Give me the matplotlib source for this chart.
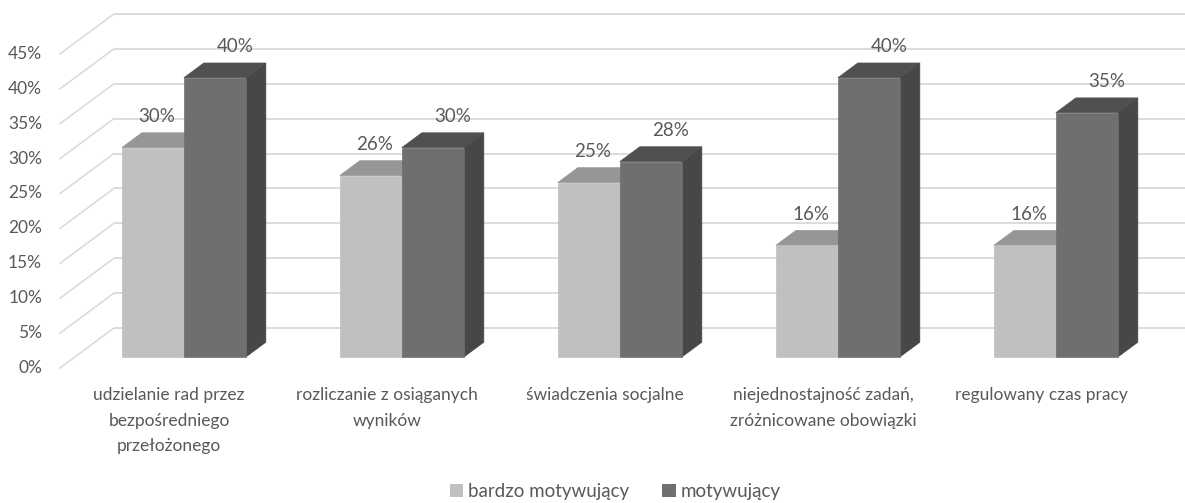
import matplotlib
matplotlib.use("Agg")
import matplotlib.pyplot as plt
from matplotlib.patches import Polygon, Rectangle

plt.rcParams['font.family'] = ['Lato', 'DejaVu Sans']

categories = [
    "udzielanie rad przez\nbezpośredniego\nprzełożonego",
    "rozliczanie z osiąganych\nwyników",
    "świadczenia socjalne",
    "niejednostajność zadań,\nzróżnicowane obowiązki",
    "regulowany czas pracy",
]
series_names = ["bardzo motywujący", "motywujący"]
bardzo_motywujacy = [30, 26, 25, 16, 16]
motywujacy = [40, 30, 28, 40, 35]
y_ticks = [0, 5, 10, 15, 20, 25, 30, 35, 40, 45]

TEXT = "#595959"
GRID = "#d9d9d9"
# front / top / side shades for each series
SHADES = [
    ("#c0c0c0", "#969696", "#8a8a8a"),
    ("#6f6f6f", "#505050", "#474747"),
]

W, H = 1185, 503
fig = plt.figure(figsize=(W / 100, H / 100), dpi=100)
ax = fig.add_axes([0, 0, 1, 1])

# oblique projection: one category = 218 px, one percent = 6.98 px
PX_X, PX_Y = 218.0, 6.98
X0_PX, Y0_PX = 169.0, 368.0
ax.set_xlim(-X0_PX / PX_X, (W - X0_PX) / PX_X)
ax.set_ylim((Y0_PX - H) / PX_Y, Y0_PX / PX_Y)
ax.axis("off")

DX, DY = 54 / PX_X, 40 / PX_Y          # full depth of the plot box
BAR_W = 62 / PX_X
D_FRONT, D_BACK = 0.275, 0.645           # bar depth range (fraction of box)


def proj(x, y, d):
    return (x + d * DX, y + d * DY)


n = len(categories)
left, right = -0.5, n - 0.5

# back wall gridlines and left wall diagonals
for v in y_ticks:
    bx, by = proj(left, v, 1)
    ax.plot([bx, right + DX + 1], [by, by], color=GRID, lw=1.3, zorder=1,
            solid_capstyle="butt")
    fx, fy = proj(left, v, 0)
    ax.plot([fx, bx], [fy, by], color=GRID, lw=1.1, zorder=1)
    ax.text(left - 0.082, v, f"{v}%", ha="right", va="center",
            fontsize=12.5, color=TEXT)


def bar3d(x0, x1, v, shades):
    front, top, side = shades
    f0 = [proj(x0, 0, D_FRONT), proj(x1, 0, D_FRONT),
          proj(x1, v, D_FRONT), proj(x0, v, D_FRONT)]
    tp = [proj(x0, v, D_FRONT), proj(x1, v, D_FRONT),
          proj(x1, v, D_BACK), proj(x0, v, D_BACK)]
    sd = [proj(x1, 0, D_FRONT), proj(x1, v, D_FRONT),
          proj(x1, v, D_BACK), proj(x1, 0, D_BACK)]
    for pts, c in ((sd, side), (tp, top), (f0, front)):
        ax.add_patch(Polygon(pts, closed=True, facecolor=c, edgecolor=c,
                             lw=0.5, zorder=3))


label_dx = [4 / PX_X, 20 / PX_X]
for i in range(n):
    for s, vals in enumerate((bardzo_motywujacy, motywujacy)):
        v = vals[i]
        x0 = i - BAR_W if s == 0 else i
        x1 = x0 + BAR_W
        bar3d(x0, x1, v, SHADES[s])
        cx, cy = proj((x0 + x1) / 2, v, D_FRONT)
        ax.text(cx + label_dx[s], cy + 31 / PX_Y, f"{v}%", ha="center",
                va="center", fontsize=13.5, color=TEXT, zorder=5)
    ax.text(i, -2.7, categories[i], ha="center", va="top", fontsize=12.5,
            color=TEXT, linespacing=1.75)

handles = [Rectangle((0, 0), 1, 1, facecolor=SHADES[s][0], edgecolor="none")
           for s in range(2)]
ax.legend(handles, series_names, loc="center", bbox_to_anchor=(0.519, 0.022),
          ncol=2, frameon=False, fontsize=13.5, labelcolor=TEXT,
          handlelength=0.7, handleheight=0.7, handletextpad=0.25,
          columnspacing=1.8)

fig.savefig("out.png", dpi=100, facecolor="white")
